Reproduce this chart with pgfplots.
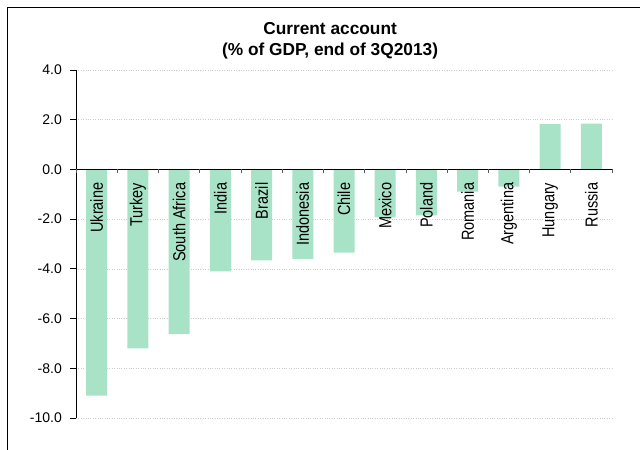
\documentclass[border=0pt]{standalone}
\usepackage{pgfplots}
\pgfplotsset{compat=1.18}
\usepackage{fontspec}
\setmainfont{Liberation Sans}
\definecolor{barcol}{RGB}{168,226,199}
\definecolor{gridcol}{RGB}{205,205,205}
\pgfplotsset{
  common/.style={
    at={(76bp,32bp)}, anchor=south west,
    scale only axis, width=536bp, height=348bp,
    xmin=-0.5, xmax=12.5, ymin=-10, ymax=4,
    hide obscured x ticks=false, hide obscured y ticks=false,
  },
}
\begin{document}
\begin{tikzpicture}
\useasboundingbox (0,0) rectangle (640bp,450bp);
\draw[line width=1bp] (7bp,0) -- (7bp,442bp) -- (640bp,442bp);
% main axis: y axis, grid, bars, title
\begin{axis}[
  common,
  axis x line=none, axis y line=left,
  axis line style={-, black, line width=0.8bp},
  ytick={-10,-8,...,4},
  y tick style={black, line width=0.8bp},
  tick align=outside, major tick length=6bp,
  /pgf/number format/fixed, /pgf/number format/fixed zerofill, /pgf/number format/precision=1,
  /pgf/number format/assume math mode=true,
  yticklabel style={font=\fontsize{14bp}{16bp}\selectfont, inner sep=0pt, xshift=-8bp},
  ymajorgrids, major grid style={gridcol, dotted, line width=0.6bp},
  title={Current account\\(\% of GDP, end of 3Q2013)},
  title style={at={(0.474,1)}, anchor=south, align=center, inner sep=0pt, yshift=5bp,
    font=\bfseries\fontsize{17.3bp}{21bp}\selectfont},
]
\addplot[ybar, bar width=21bp, fill=barcol, draw=none] coordinates {
(0,-9.1) (1,-7.2) (2,-6.63) (3,-4.1) (4,-3.66) (5,-3.6) (6,-3.35)
(7,-1.93) (8,-1.85) (9,-0.89) (10,-0.69) (11,1.82) (12,1.84)};
\end{axis}
% overlay axis: zero line, category ticks and labels on top of bars
\begin{axis}[
  common,
  axis x line=middle, axis y line=none,
  axis line style={-, black, line width=0.8bp},
  xtick={0,...,12},
  xticklabels={Ukraine,Turkey,South Africa,India,Brazil,Indonesia,Chile,Mexico,Poland,Romania,Argentina,Hungary,Russia},
  x tick style={draw=none},
  xticklabel style={rotate=90, yscale=1.2, anchor=east, inner sep=0pt, font=\fontsize{14.5bp}{16bp}\selectfont},
  xticklabel shift=11bp,
  extra x ticks={-0.5,0.5,...,12.5},
  extra x tick labels={},
  extra x tick style={x tick style={draw=gray!70!black, line width=0.6bp}, major tick length=4bp, tick align=outside},
  ytick=\empty,
]
\end{axis}
\end{tikzpicture}
\end{document}
